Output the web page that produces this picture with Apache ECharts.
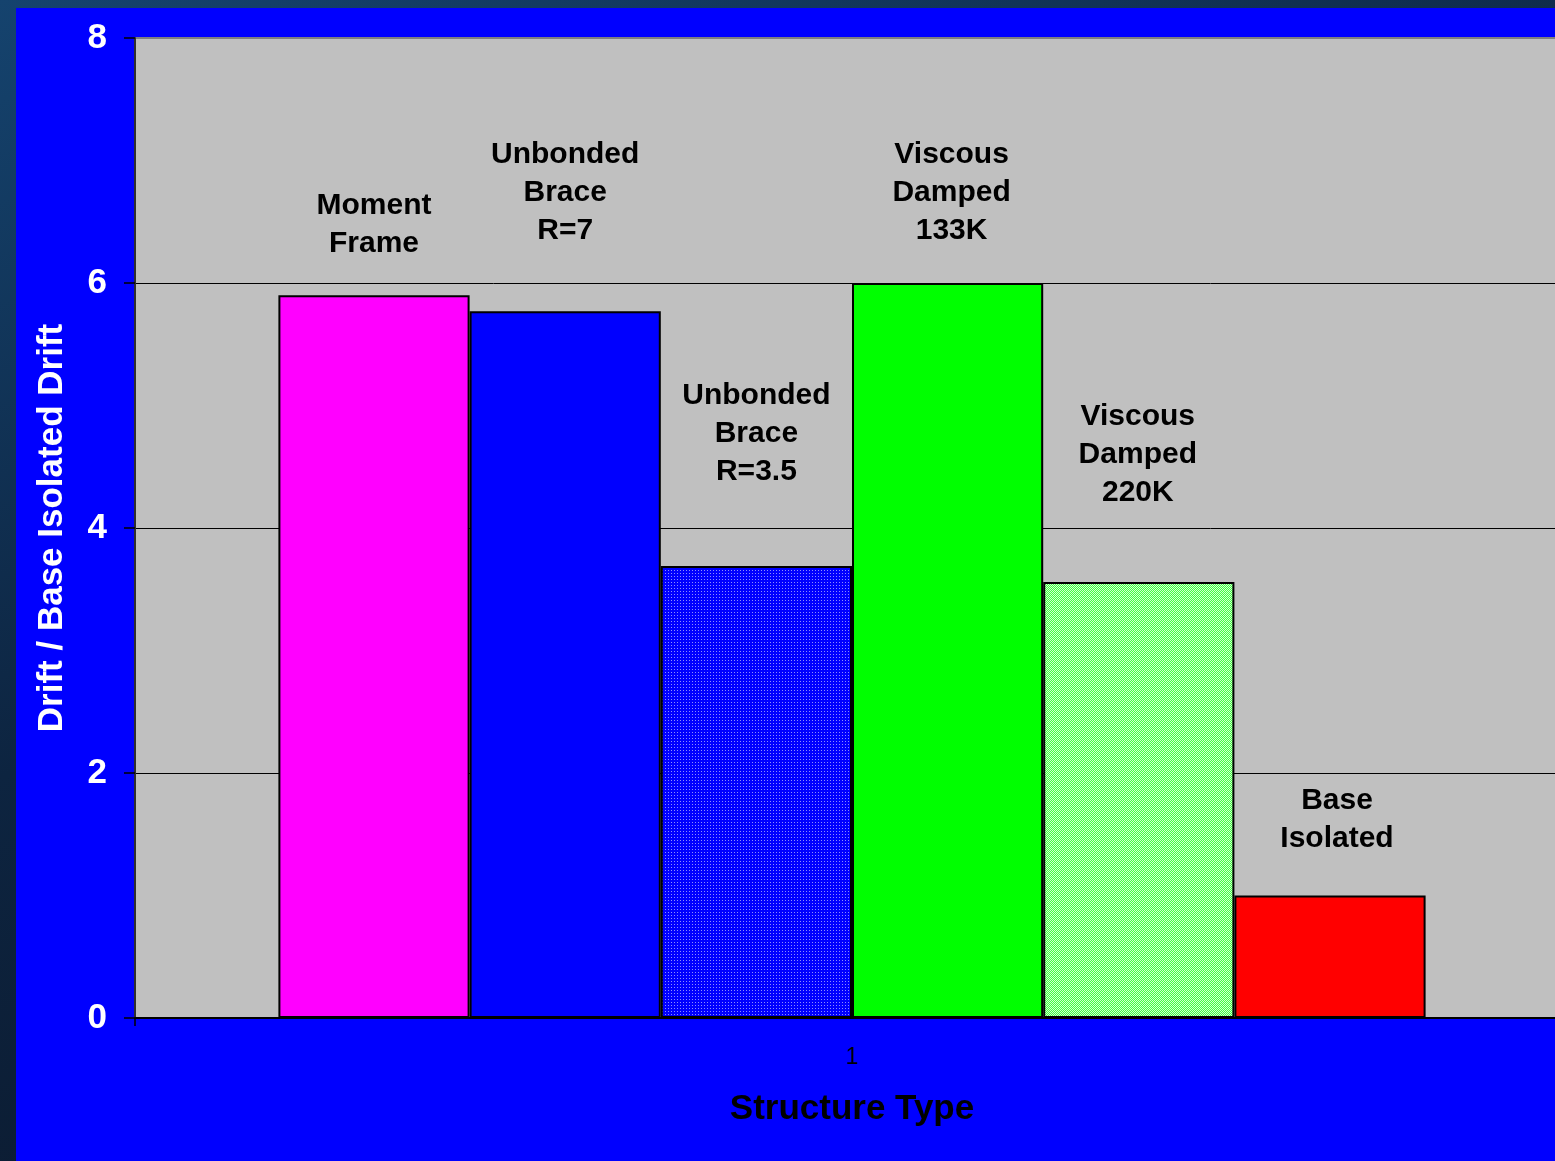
<!DOCTYPE html>
<html>
<head>
<meta charset="utf-8">
<script src="https://cdn.jsdelivr.net/npm/echarts@6/dist/echarts.min.js"></script>
<style>
  html, body { margin: 0; padding: 0; width: 1555px; height: 1161px; overflow: hidden; }
  body { background: linear-gradient(160deg, #15436e 0%, #0d2440 45%, #0a1424 100%); position: relative; }
  #panel { position: absolute; left: 16px; top: 8px; width: 1539px; height: 1153px; background: #0000FF; overflow: hidden; }
  #chart { width: 1553px; height: 1153px; }
</style>
</head>
<body>
<div id="panel"><div id="chart"></div></div>
<script>
// Drift ratio of each structural system relative to the base isolated building
const categories = ['1'];
const seriesNames = ['Moment Frame', 'Unbonded Brace R=7', 'Unbonded Brace R=3.5',
                     'Viscous Damped 133K', 'Viscous Damped 220K', 'Base Isolated'];
const barLabels = ['Moment\nFrame', 'Unbonded\nBrace\nR=7', 'Unbonded\nBrace\nR=3.5',
                   'Viscous\nDamped\n133K', 'Viscous\nDamped\n220K', 'Base\nIsolated'];
const driftRatios = [5.9, 5.77, 3.69, 6.0, 3.56, 1.0];
const yTicks = [0, 2, 4, 6, 8];

// small repeating tiles for the two stippled bars
function makeTile(size, base, dot, cells) {
  const c = document.createElement('canvas');
  c.width = size; c.height = size;
  const g = c.getContext('2d');
  g.fillStyle = base; g.fillRect(0, 0, size, size);
  g.fillStyle = dot;
  cells.forEach(p => g.fillRect(p[0], p[1], 1, 1));
  return c;
}
const blueDots = makeTile(3, '#0000FF', '#8c8cff', [[1, 1]]);
const greenCheck = makeTile(2, '#40FF40', '#d0ffd0', [[0, 0], [1, 1]]);

const fills = [
  '#FF00FF',
  '#0000FF',
  { image: blueDots, repeat: 'repeat' },
  '#00FF00',
  { image: greenCheck, repeat: 'repeat' },
  '#FF0000'
];
// label placement above each bar
const labelGap = [33, 61, 75, 33, 70, 38];
const labelShift = [0, 0, 0, 4, -1, 7];

const font = '"Liberation Sans", Arial, sans-serif';

const chart = echarts.init(document.getElementById('chart'));
chart.setOption({
  animation: false,
  backgroundColor: 'transparent',
  grid: {
    left: 119, top: 30, right: 0, bottom: 143,
    show: true, backgroundColor: '#C0C0C0',
    borderColor: '#808080', borderWidth: 2
  },
  xAxis: {
    type: 'category',
    data: categories,
    name: 'Structure Type',
    nameLocation: 'middle',
    nameGap: 74,
    nameTextStyle: { color: '#000', fontFamily: font, fontWeight: 'bold', fontSize: 35 },
    axisLine: { lineStyle: { color: '#000', width: 2 } },
    axisTick: { show: true, length: 8, lineStyle: { color: '#000', width: 1.5 } },
    axisLabel: { color: '#000', fontFamily: font, fontSize: 23, margin: 28 },
    z: 10
  },
  yAxis: {
    type: 'value',
    min: 0, max: 8, interval: 2,
    name: 'Drift / Base Isolated Drift',
    nameLocation: 'middle',
    nameGap: 65,
    nameTextStyle: { color: '#fff', fontFamily: font, fontWeight: 'bold', fontSize: 35 },
    axisLine: { show: true, lineStyle: { color: '#303030', width: 2 } },
    axisTick: { show: true, length: 11, lineStyle: { color: '#000', width: 1.5 } },
    axisLabel: {
      color: '#fff', fontFamily: font, fontWeight: 'bold', fontSize: 35, margin: 28,
      padding: [4, 0, 0, 0],
      formatter: v => (yTicks.indexOf(v) >= 0 ? String(v) : '')
    },
    splitLine: { show: true, lineStyle: { color: ['#000', '#000', '#000', '#000', '#808080'], width: 1 } }
  },
  series: seriesNames.map((name, i) => ({
    name: name,
    type: 'bar',
    barGap: 0,
    barCategoryGap: '20%',
    data: [driftRatios[i]],
    itemStyle: { color: fills[i], borderColor: '#000', borderWidth: 2 },
    label: {
      show: true,
      position: 'top',
      distance: labelGap[i],
      offset: [labelShift[i], 0],
      formatter: barLabels[i],
      color: '#000',
      fontFamily: font,
      fontWeight: 'bold',
      fontSize: 30,
      lineHeight: 38,
      align: 'center'
    }
  }))
});
</script>
</body>
</html>
